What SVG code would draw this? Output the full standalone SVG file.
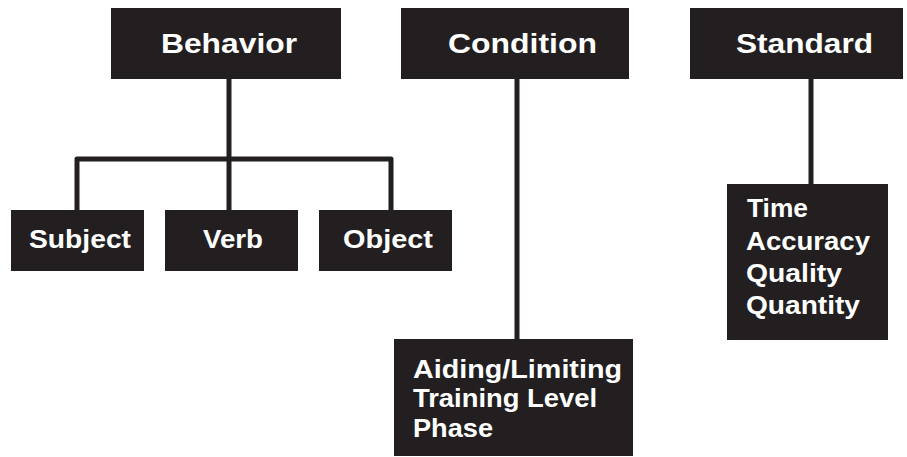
<svg xmlns="http://www.w3.org/2000/svg" width="907" height="457" viewBox="0 0 907 457">
  <style>
    .box { fill: #231f20; }
    .lbl { fill: #ffffff; font-family: "Liberation Sans", Arial, sans-serif; font-weight: bold; font-size: 26px; }
    .head { font-size: 27px; }
    .small { font-size: 25px; }
    .wire { fill: none; stroke: #231f20; stroke-width: 5; stroke-linejoin: round; }
  </style>
  <rect width="907" height="457" fill="#ffffff"/>

  <!-- connectors -->
  <g id="connectors">
    <path class="wire" d="M229 79 V210"/>
    <path class="wire" d="M77 210 V159 H391 V210"/>
    <path class="wire" d="M517 79 V340"/>
    <path class="wire" d="M811 79 V185"/>
  </g>

  <!-- top-level headings -->
  <g id="behavior">
    <rect class="box" x="111" y="8" width="230" height="71"/>
    <text class="lbl head" x="161" y="53" textLength="136" lengthAdjust="spacingAndGlyphs">Behavior</text>
  </g>
  <g id="condition">
    <rect class="box" x="401" y="8" width="228" height="71"/>
    <text class="lbl head" x="448" y="53" textLength="149" lengthAdjust="spacingAndGlyphs">Condition</text>
  </g>
  <g id="standard">
    <rect class="box" x="690" y="8" width="213" height="71"/>
    <text class="lbl head" x="736" y="53" textLength="137" lengthAdjust="spacingAndGlyphs">Standard</text>
  </g>

  <!-- behavior parts -->
  <g id="subject">
    <rect class="box" x="11" y="210" width="133" height="61"/>
    <text class="lbl" x="29" y="248" textLength="102" lengthAdjust="spacingAndGlyphs">Subject</text>
  </g>
  <g id="verb">
    <rect class="box" x="165" y="210" width="133" height="61"/>
    <text class="lbl" x="203" y="248" textLength="60" lengthAdjust="spacingAndGlyphs">Verb</text>
  </g>
  <g id="object">
    <rect class="box" x="319" y="210" width="133" height="61"/>
    <text class="lbl" x="343" y="248" textLength="90" lengthAdjust="spacingAndGlyphs">Object</text>
  </g>

  <!-- condition details -->
  <g id="condition-details">
    <rect class="box" x="394" y="339" width="239" height="117"/>
    <text class="lbl" x="413" y="378" textLength="209" lengthAdjust="spacingAndGlyphs">Aiding/Limiting</text>
    <text class="lbl" x="413" y="407" textLength="184" lengthAdjust="spacingAndGlyphs">Training Level</text>
    <text class="lbl" x="413" y="437" textLength="80" lengthAdjust="spacingAndGlyphs">Phase</text>
  </g>

  <!-- standard details -->
  <g id="standard-details">
    <rect class="box" x="727" y="184" width="161" height="156"/>
    <text class="lbl small" x="747" y="217" textLength="61" lengthAdjust="spacingAndGlyphs">Time</text>
    <text class="lbl small" x="746" y="250" textLength="124" lengthAdjust="spacingAndGlyphs">Accuracy</text>
    <text class="lbl small" x="746" y="282" textLength="96" lengthAdjust="spacingAndGlyphs">Quality</text>
    <text class="lbl small" x="746" y="314" textLength="114" lengthAdjust="spacingAndGlyphs">Quantity</text>
  </g>
</svg>
